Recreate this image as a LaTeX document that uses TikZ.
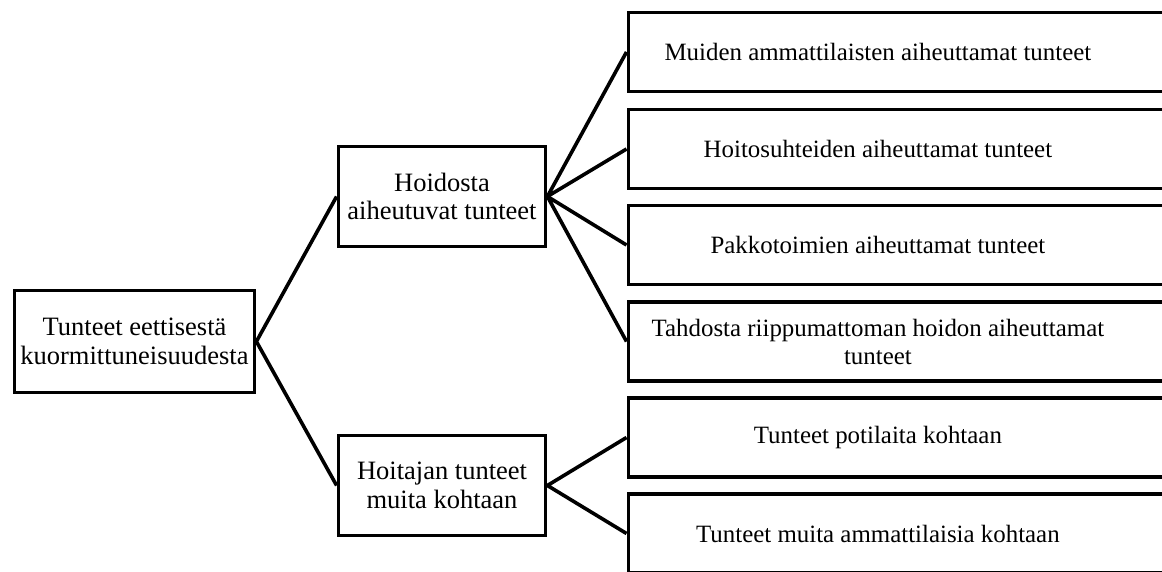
\documentclass[tikz,border=0pt]{standalone}
\usepackage{fontspec}
\setmainfont{Liberation Serif}
\newcommand{\lefttextsize}{\fontsize{26.5}{28.5}\selectfont}
\newcommand{\righttextsize}{\fontsize{24.9}{28}\selectfont}
% text of a right-hand box: centred in its visible part, box runs on past the edge
\newcommand{\rtext}[1]{\parbox[c]{499pt}{\centering #1}\rule{140pt}{0pt}}
\begin{document}
\begin{tikzpicture}[x=1pt,y=-1pt,
  frame/.style={draw=black, line width=3.8pt, fill=white, inner sep=0pt},
  lbox/.style={frame, minimum width=240pt, minimum height=102pt, align=center, font=\lefttextsize},
  mbox/.style={frame, minimum width=207pt, minimum height=100pt, align=center, font=\lefttextsize},
  rbox/.style={frame, anchor=west, minimum height=79pt, font=\righttextsize},
  link/.style={draw=black, line width=3.6pt, line join=round}]
\useasboundingbox (0,0) rectangle (1162,572);
\clip (0,0) rectangle (1162,572);

% boxes
\node[lbox] (root) at (134.5,341.5) {Tunteet eettisestä\\kuormittuneisuudesta};
\node[mbox] (hoidosta) at (442,196.5) {Hoidosta\\aiheutuvat tunteet};
\node[mbox] (hoitajan) at (442,485.5) {Hoitajan tunteet\\muita kohtaan};

\node[rbox] (r1) at (626.5,52) {\rtext{Muiden ammattilaisten aiheuttamat tunteet}};
\node[rbox] (r2) at (626.5,149) {\rtext{Hoitosuhteiden aiheuttamat tunteet}};
\node[rbox] (r3) at (626.5,245) {\rtext{Pakkotoimien aiheuttamat tunteet}};
\node[rbox] (r4) at (626.5,341.5) {\rtext{Tahdosta riippumattoman hoidon aiheuttamat\\tunteet}};
\node[rbox] (r5) at (626.5,437.5) {\rtext{Tunteet potilaita kohtaan}};
\node[rbox] (r6) at (626.5,533.5) {\rtext{Tunteet muita ammattilaisia kohtaan}};

% tree connectors
\draw[link] (hoidosta.west) -- (root.east) -- (hoitajan.west);
\draw[link] (r1.west) -- (hoidosta.east) -- (r2.west);
\draw[link] (r3.west) -- (hoidosta.east) -- (r4.west);
\draw[link] (r5.west) -- (hoitajan.east) -- (r6.west);
\end{tikzpicture}
\end{document}
